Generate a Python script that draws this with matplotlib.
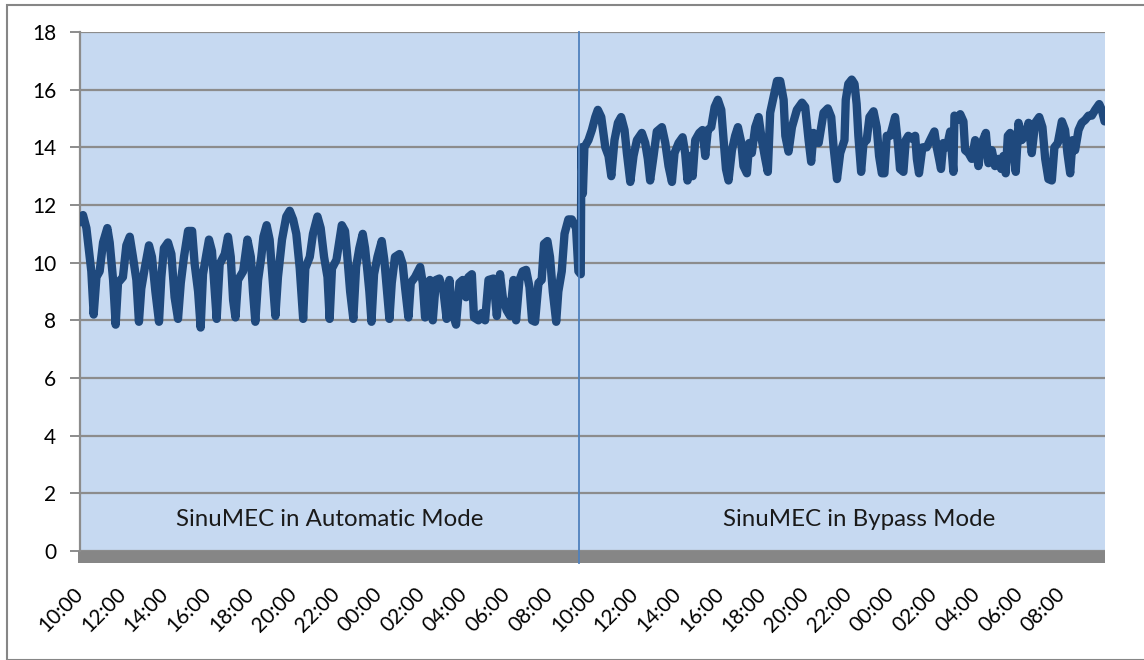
import matplotlib.pyplot as plt
from matplotlib.patches import Rectangle

# hours since 10:00 on day 1
hours = [
    0.00, 0.14, 0.30, 0.45, 0.53, 0.64, 0.77, 0.92, 1.08, 1.28, 1.39, 1.55, 1.67, 1.78,
    2.01, 2.17, 2.33, 2.48, 2.64, 2.76, 2.87, 3.03, 3.23, 3.37, 3.53, 3.70, 3.81, 3.93,
    4.12, 4.28, 4.43, 4.59, 4.72, 4.87, 5.06, 5.25, 5.37, 5.53, 5.65, 5.76, 5.92, 6.04,
    6.18, 6.31, 6.40, 6.54, 6.78, 6.93, 7.06, 7.17, 7.28, 7.40, 7.64, 7.84, 8.00, 8.10,
    8.21, 8.34, 8.49, 8.59, 8.74, 8.88, 8.99, 9.15, 9.27, 9.46, 9.66, 9.82, 9.98, 10.13,
    10.29, 10.45, 10.55, 10.76, 10.91, 11.12, 11.27, 11.43, 11.59, 11.69, 11.80, 12.01,
    12.26, 12.41, 12.52, 12.65, 12.80, 12.93, 13.08, 13.24, 13.35, 13.46, 13.55, 13.65,
    13.77, 13.93, 14.13, 14.25, 14.36, 14.49, 14.60, 14.75, 14.96, 15.11, 15.22, 15.38,
    15.49, 15.69, 15.93, 16.05, 16.16, 16.27, 16.39, 16.52, 16.67, 16.83, 17.02, 17.17,
    17.30, 17.41, 17.61, 17.77, 17.92, 18.08, 18.19, 18.35, 18.45, 18.66, 18.81, 18.97,
    19.13, 19.36, 19.52, 19.67, 19.80, 19.98, 20.14, 20.30, 20.42, 20.58, 20.73, 20.89,
    21.05, 21.17, 21.31, 21.47, 21.62, 21.73, 21.89, 22.01, 22.14, 22.30, 22.40, 22.56,
    22.69, 22.87, 23.03, 23.23, 23.34, 23.45,
    23.48, 23.55, 23.62, 23.81, 23.97, 24.13, 24.25, 24.41, 24.60, 24.75, 24.88, 25.03,
    25.19, 25.34, 25.50, 25.61, 25.77, 25.92, 26.08, 26.31, 26.47, 26.59, 26.70, 26.86,
    27.01, 27.25, 27.41, 27.56, 27.72, 27.84, 28.03, 28.22, 28.34, 28.45, 28.58, 28.69,
    28.81, 29.00, 29.15, 29.28, 29.40, 29.56, 29.72, 29.87, 30.03, 30.14, 30.25, 30.37,
    30.53, 30.68, 30.81, 30.97, 31.07, 31.23, 31.34, 31.46, 31.62, 31.78, 31.93, 32.09,
    32.21, 32.32, 32.48, 32.64, 32.79, 32.95, 33.03, 33.18, 33.34, 33.57, 33.81, 33.96,
    34.12, 34.24, 34.35, 34.59, 34.82, 35.02, 35.18, 35.29, 35.45, 35.60, 35.80,
    35.86, 35.98, 36.14, 36.27, 36.37, 36.45, 36.58, 36.69, 36.84, 36.97, 37.16, 37.31,
    37.42, 37.55, 37.67, 37.78, 37.94, 38.05, 38.17, 38.30, 38.40, 38.56, 38.67, 38.79,
    38.95, 39.11, 39.19, 39.29, 39.45, 39.65, 39.81, 40.01, 40.12, 40.23, 40.32, 40.43,
    40.59, 40.75, 40.90, 40.95, 41.11, 41.22, 41.37, 41.45, 41.61, 41.76, 41.92, 42.07,
    42.23, 42.42, 42.54, 42.70, 42.85, 43.01, 43.14, 43.24, 43.35, 43.45, 43.56, 43.71,
    43.82, 43.95, 44.10, 44.26, 44.42, 44.57, 44.73, 44.92, 45.07, 45.20, 45.35, 45.51,
    45.63, 45.79, 45.98, 46.13, 46.24, 46.37, 46.48, 46.60, 46.76, 46.91, 47.07, 47.23,
    47.38, 47.54, 47.73, 47.85, 47.98,
]
current = [
    11.4, 11.65, 11.2, 10.2, 9.7, 8.2, 9.5, 9.7, 10.7, 11.2, 10.7, 9.4, 7.85, 9.3,
    9.5, 10.6, 10.9, 10.2, 9.4, 7.95, 9.1, 9.8, 10.6, 10.2, 9.0, 7.95, 9.5, 10.5,
    10.7, 10.3, 8.8, 8.05, 9.3, 10.2, 11.1, 11.1, 9.95, 9.0, 7.75, 9.6, 10.3, 10.8,
    10.4, 9.0, 8.05, 9.95, 10.3, 10.9, 10.2, 8.7, 8.1, 9.4, 9.7, 10.8, 10.2, 9.0,
    7.95, 9.4, 10.2, 10.9, 11.3, 10.8, 9.7, 8.15, 9.5, 10.8, 11.6, 11.8, 11.5, 11.0,
    9.8, 8.05, 9.8, 10.2, 11.0, 11.6, 11.2, 10.2, 9.5, 8.05, 9.8, 10.1,
    11.3, 11.1, 10.2, 9.0, 8.05, 9.85, 10.5, 11.0, 10.5, 9.7, 9.0, 7.95,
    9.6, 10.2, 10.75, 10.1, 9.15, 8.05, 9.3, 10.2, 10.3, 9.95, 9.15, 8.1,
    9.3, 9.5, 9.85, 9.3, 8.1, 9.0, 9.4, 8.0, 9.4, 9.45, 9.0, 8.05,
    9.4, 8.35, 7.85, 9.3, 9.4, 8.8, 9.5, 9.6, 8.1, 8.0, 8.25, 8.0,
    9.4, 9.45, 8.15, 9.6, 8.8, 8.35, 8.15, 9.4, 8.0, 9.4, 9.7, 9.75,
    9.15, 8.0, 7.95, 9.3, 9.4, 10.65, 10.75, 10.2, 9.0, 7.95, 9.0, 9.7,
    11.0, 11.5, 11.5, 11.2, 9.7, 9.6,
    14.0, 12.4, 14.0, 14.25, 14.6, 15.05, 15.3, 15.05, 14.0, 13.7, 13.0, 14.25,
    14.85, 15.05, 14.6, 13.8, 12.8, 13.7, 14.25, 14.5, 14.15, 13.6, 12.85, 13.7,
    14.55, 14.7, 14.15, 13.35, 12.8, 13.8, 14.15, 14.35, 13.8, 12.85, 13.7, 13.0,
    14.25, 14.5, 14.6, 13.7, 14.6, 14.7, 15.4, 15.65, 15.3, 14.25, 13.25, 12.85,
    13.9, 14.4, 14.7, 14.15, 13.35, 13.1, 14.15, 13.8, 14.7, 15.05, 14.25, 13.6,
    13.15, 15.2, 15.75, 16.3, 16.3, 15.65, 14.4, 13.85, 14.7, 15.3, 15.55, 15.4,
    14.25, 13.5, 14.5, 14.15, 15.2, 15.35, 15.05, 14.0, 12.9, 13.8, 14.25,
    15.65, 16.2, 16.35, 16.2, 15.5, 14.4, 13.15, 14.15, 14.25, 15.05, 15.25, 14.7,
    13.7, 13.1, 13.1, 14.4, 14.4, 14.7, 15.05, 14.15, 13.25, 13.15, 14.25, 14.4,
    14.3, 14.4, 13.6, 13.1, 14.0, 14.0, 14.25, 14.55, 14.0, 13.6, 13.25, 14.15,
    14.0, 14.55, 13.15, 15.1, 14.95, 15.15, 14.9, 13.9, 13.8, 13.6, 14.25, 13.35,
    14.15, 14.5, 13.45, 13.9, 13.35, 13.6, 13.25, 13.7, 13.1, 14.4, 14.5, 13.9,
    13.15, 14.85, 14.25, 14.4, 14.85, 13.8, 14.85, 15.05, 14.7, 13.6, 12.9, 12.85,
    14.0, 14.15, 14.9, 14.6, 13.8, 13.1, 14.25, 13.9, 14.6, 14.85, 14.95, 15.1,
    15.1, 15.3, 15.5, 15.3, 14.9,
]

tick_hours = list(range(0, 48, 2))
tick_labels = ['10:00', '12:00', '14:00', '16:00', '18:00', '20:00', '22:00', '00:00',
               '02:00', '04:00', '06:00', '08:00'] * 2
switch_hour = 23.37
mode_labels = ['SinuMEC in Automatic Mode', 'SinuMEC in Bypass Mode']

plt.rcParams['font.family'] = ['Lato', 'DejaVu Sans']

fig = plt.figure(figsize=(11.44, 6.6), dpi=100)
ax = fig.add_axes([80 / 1144, 1 - 551 / 660, 1025 / 1144, 519 / 660])
ax.set_facecolor('#C6D9F1')

# outer chart frame
fig.patches.append(Rectangle((7 / 1144, 0.0), 1.2, 1 - 5 / 660, transform=fig.transFigure,
                             fill=False, edgecolor='#868686', linewidth=1.5))

ax.set_xlim(0, 48)
ax.set_ylim(0, 18)
ax.set_yticks(range(0, 19, 2))
ax.yaxis.grid(True, color='#8C8C8C', linewidth=1.6)
ax.set_axisbelow(True)

ax.plot(hours, current, color='#1F497D', linewidth=6, solid_joinstyle='round',
        solid_capstyle='round', zorder=3)

ax.axvline(switch_hour, ymin=-0.024, ymax=1, color='#4F81BD', linewidth=1.3,
           clip_on=False, zorder=4)

# grey floor band under the plot area
ax.add_patch(Rectangle((-0.002, -0.024), 1.002, 0.024, transform=ax.transAxes,
                       facecolor='#868686', edgecolor='none', clip_on=False, zorder=2))

ax.text(11.7, 1.1, mode_labels[0], ha='center', va='center', fontsize=17.3, color='#1a1a1a')
ax.text(36.5, 1.1, mode_labels[1], ha='center', va='center', fontsize=17.3, color='#1a1a1a')

for s in ['top', 'right', 'bottom']:
    ax.spines[s].set_visible(False)
ax.spines['left'].set_color('#8C8C8C')
ax.spines['left'].set_linewidth(1.6)

ax.tick_params(axis='y', length=7, width=1.4, color='#8C8C8C', labelsize=15, pad=10)
ax.set_xticks(tick_hours)
ax.set_xticklabels(tick_labels, rotation=45, ha='right', va='center',
                   rotation_mode='anchor', fontsize=15)
ax.tick_params(axis='x', length=0, pad=29)

fig.savefig('out.png', dpi=100)
